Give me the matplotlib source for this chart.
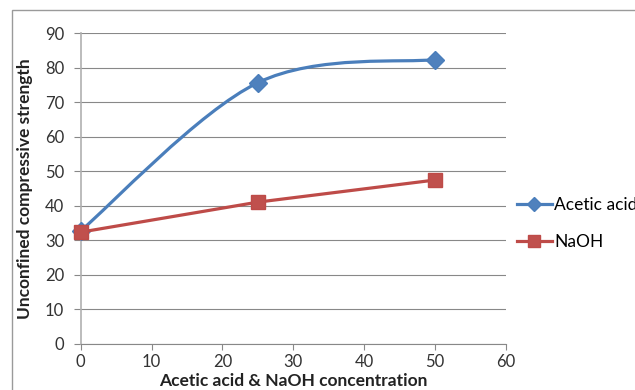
import numpy as np
import matplotlib
matplotlib.use("Agg")
import matplotlib.pyplot as plt
from matplotlib.path import Path
from matplotlib.patches import PathPatch, Rectangle
from matplotlib.lines import Line2D

plt.rcParams['font.family'] = ['Lato', 'DejaVu Sans']

# data
conc = [0, 25, 50]
acetic = [32.8, 75.7, 82.4]
naoh = [32.4, 41.1, 47.5]

blue_line, blue_fill = "#4A7EBB", "#4F81BD"
red_line, red_fill = "#BE4B48", "#C0504D"
grid_c = "#888888"
text_c = "#333333"


def excel_smooth(x, y):
    # Bezier path like Excel's "smoothed line"
    pts = np.column_stack([x, y]).astype(float)
    n = len(pts)
    verts = [pts[0]]
    codes = [Path.MOVETO]
    for i in range(n - 1):
        p_prev = pts[i - 1] if i > 0 else pts[i]
        p_next = pts[i + 2] if i + 2 < n else pts[i + 1]
        c1 = pts[i] + (pts[i + 1] - p_prev) / 6
        c2 = pts[i + 1] - (p_next - pts[i]) / 6
        verts += [c1, c2, pts[i + 1]]
        codes += [Path.CURVE4] * 3
    return Path(verts, codes)


fig = plt.figure(figsize=(6.35, 3.9), dpi=100)
ax = fig.add_axes([80.7 / 635, 1 - 344 / 390, 425.3 / 635, 310.7 / 390])

# outer chart border
fig.patches.append(Rectangle((12 / 635, -0.1), 1.2, 1 - 10 / 390 + 0.1,
                             transform=fig.transFigure, fill=False,
                             edgecolor="#9a9a9a", linewidth=1.0))

ax.add_patch(PathPatch(excel_smooth(conc, acetic), fill=False,
                       edgecolor=blue_line, linewidth=2.3, zorder=3,
                       capstyle='round'))
ax.plot(conc, acetic, linestyle='none', marker='D', markersize=9.5,
        markerfacecolor=blue_fill, markeredgecolor=blue_line, zorder=4,
        clip_on=False)
ax.plot(conc, naoh, color=red_line, linewidth=2.3, marker='s', markersize=10.5,
        markerfacecolor=red_fill, markeredgecolor=red_line, zorder=5,
        clip_on=False)

ax.set_xlim(0, 60)
ax.set_ylim(0, 90)
ax.set_xticks(range(0, 61, 10))
ax.set_yticks(range(0, 91, 10))
ax.grid(axis='y', color=grid_c, linewidth=0.8)
ax.set_axisbelow(True)
for s in ['top', 'right']:
    ax.spines[s].set_visible(False)
ax.spines['bottom'].set_color(grid_c)
ax.spines['bottom'].set_linewidth(0.8)
ax.spines['left'].set_color("#b0b0b0")
ax.spines['left'].set_linewidth(1.2)
ax.tick_params(axis='y', length=5, width=0.8, color=grid_c, pad=7,
               labelsize=12, labelcolor=text_c)
ax.tick_params(axis='x', length=4, width=0.8, color=grid_c, pad=3,
               labelsize=12, labelcolor=text_c)

ax.set_xlabel("Acetic acid & NaOH concentration", fontsize=12.5,
              fontweight='bold', color="#222222")
ax.xaxis.set_label_coords(0.5, -0.093)
ax.set_ylabel("Unconfined compressive strength", fontsize=12.5,
              fontweight='bold', color="#222222")
ax.yaxis.set_label_coords(-0.112, 0.5)

handles = [
    Line2D([], [], color=blue_line, linewidth=2.3, marker='D', markersize=7,
           markerfacecolor=blue_fill, markeredgecolor=blue_line),
    Line2D([], [], color=red_line, linewidth=2.3, marker='s', markersize=8,
           markerfacecolor=red_fill, markeredgecolor=red_line),
]
ax.legend(handles, ["Acetic acid", "NaOH"], loc='center left',
          bbox_to_anchor=((517 - 80.7) / 425.3, (344 - 223.4) / 310.7),
          frameon=False, borderpad=0, borderaxespad=0, handlelength=2.0,
          handletextpad=0.15, labelspacing=1.2, fontsize=12.5)

fig.savefig("out.png", dpi=100)
